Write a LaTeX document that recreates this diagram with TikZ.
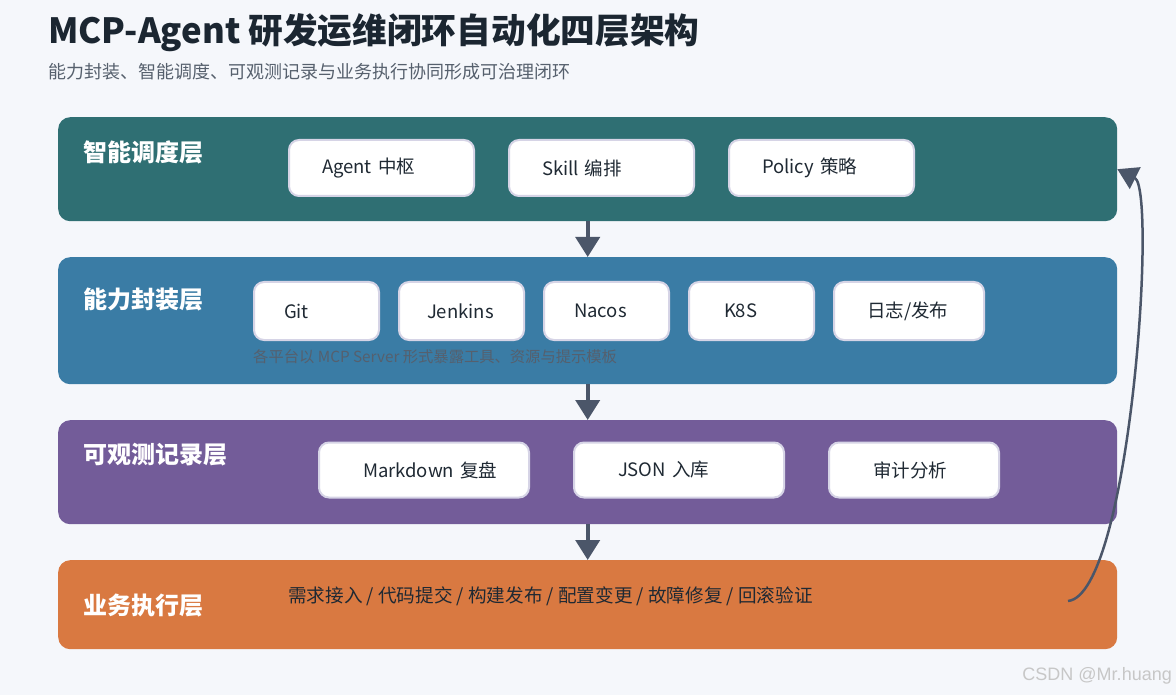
\documentclass[tikz,border=0pt]{standalone}
\usepackage{fontspec}
\setmainfont{Noto Sans CJK SC}
\newfontfamily\wmfont{Liberation Sans}
\usetikzlibrary{positioning}
\usetikzlibrary{arrows.meta}

\definecolor{bgc}{HTML}{F5F7FB}
\definecolor{titlec}{HTML}{1B2631}
\definecolor{subc}{HTML}{56606D}
\definecolor{dispatchc}{HTML}{2F6F73}
\definecolor{capabc}{HTML}{3A7CA5}
\definecolor{observec}{HTML}{735C99}
\definecolor{executec}{HTML}{D97941}
\definecolor{arrowc}{HTML}{4B5669}
\definecolor{boxline}{HTML}{D6D4E6}
\definecolor{boxtext}{HTML}{1F2933}
\definecolor{notec}{HTML}{55606E}

\begin{document}
\begin{tikzpicture}[x=1pt, y=-1pt,
    layer/.style={rounded corners=12pt, inner sep=0pt, anchor=north west, minimum width=1059pt},
    layername/.style={anchor=west, text=white, inner sep=0pt, font=\fontsize{24}{28}\selectfont\bfseries},
    item/.style={draw=boxline, line width=2pt, fill=white, rounded corners=10pt, anchor=west, align=left, text=boxtext, inner ysep=0pt, font=\fontsize{18.5}{22}\selectfont},
    flow/.style={draw=arrowc, line width=4pt, -{Triangle[width=24pt, length=20pt]}},
    closeloop/.style={draw=arrowc, line width=2.5pt, -{Triangle[width=24pt, length=20pt]}}]
          \fill[bgc] (0,0) rectangle (1176,695);
          \useasboundingbox (0,0) rectangle (1176,695);

          \node[anchor=west, inner sep=0pt, text=titlec, font=\fontsize{34.7}{40}\selectfont\bfseries] (title) at (48,33) {MCP-Agent 研发运维闭环自动化四层架构};
          \node[anchor=west, inner sep=0pt, text=subc, font=\fontsize{18}{21}\selectfont] (subtitle) at (48,72) {能力封装、智能调度、可观测记录与业务执行协同形成可治理闭环};

          % four layers
          \node[layer, fill=dispatchc, minimum height=104pt] (L1) at (58,117) {};
          \node[layer, fill=capabc, minimum height=127pt] (L2) at (58,257) {};
          \node[layer, fill=observec, minimum height=104pt] (L3) at (58,420) {};
          \node[layer, fill=executec, minimum height=89pt] (L4) at (58,560) {};

          \node[layername] (n1) at (83,152) {智能调度层};
          \node[layername] (n2) at (83,299) {能力封装层};
          \node[layername] (n3) at (83,455) {可观测记录层};
          \node[layername] (n4) at (83,606) {业务执行层};

          % dispatch
          \node[item, inner xsep=33pt, text width=119pt, minimum height=56pt] (agent) at (288,168) {Agent 中枢};
          \node[item, inner xsep=33pt, text width=119pt, minimum height=56pt] (skill) at (508,168) {Skill 编排};
          \node[item, inner xsep=33pt, text width=119pt, minimum height=56pt] (policy) at (728,168) {Policy 策略};

          % capability
          \node[item, inner xsep=30pt, text width=65pt, minimum height=58pt] (git) at (253,311) {Git};
          \node[item, inner xsep=28pt, text width=69pt, minimum height=58pt] (jenkins) at (398,311) {Jenkins};
          \node[item, inner xsep=30pt, text width=65pt, minimum height=58pt] (nacos) at (543,311) {Nacos};
          \node[item, inner xsep=35pt, text width=55pt, minimum height=58pt] (k8s) at (688,311) {K8S};
          \node[item, inner xsep=33pt, text width=84pt, minimum height=58pt] (logs) at (833,311) {日志/发布};
          \node[anchor=west, inner sep=0pt, text=notec, font=\fontsize{15.3}{18}\selectfont] (note) at (253,357) {各平台以 MCP Server 形式暴露工具、资源与提示模板};

          % observability
          \node[item, inner xsep=44pt, text width=122pt, minimum height=55pt] (md) at (318,470) {\mbox{Markdown 复盘}};
          \node[item, inner xsep=44pt, text width=122pt, minimum height=55pt] (json) at (573,470) {JSON 入库};
          \node[item, inner xsep=44pt, text width=82pt, minimum height=55pt] (audit) at (828,470) {审计分析};

          % execution
          \node[anchor=west, inner sep=0pt, text=boxtext, font=\fontsize{18.6}{22}\selectfont] (tasks) at (288,596) {需求接入 / 代码提交 / 构建发布 / 配置变更 / 故障修复 / 回滚验证};

          \draw[flow] (L1) -- (L2);
          \draw[flow] (L2) -- (L3);
          \draw[flow] (L3) -- (L4);

          \coordinate (back) at (1068,601);
          \draw[closeloop] (back) .. controls +(62,-6) and +(40,20) .. (L1.east);

          \node[anchor=east, inner sep=0pt, text=black!22, font=\wmfont\fontsize{18}{20}\selectfont] (mark) at (1172,676) {CSDN @Mr.huang};
        \end{tikzpicture}
\end{document}
